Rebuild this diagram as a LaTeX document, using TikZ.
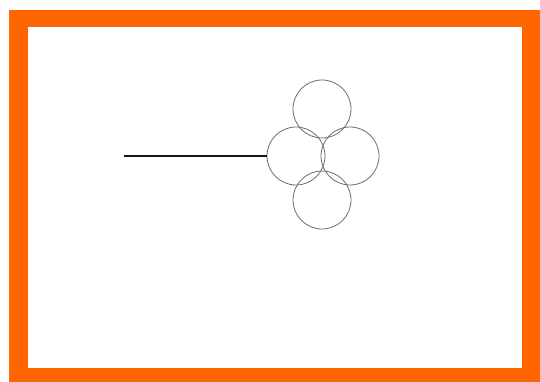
\documentclass[tikz,border=0pt]{standalone}
\usepackage{tikz}
\usetikzlibrary{positioning}
\definecolor{frameorange}{RGB}{255,102,0}
\definecolor{ringgrey}{RGB}{110,110,110}
\definecolor{stemblack}{RGB}{20,20,20}

\begin{document}
\begin{tikzpicture}[x=1pt,y=-1pt,
    ring/.style={circle,draw=ringgrey,line width=0.8pt,minimum size=58pt,inner sep=0pt}]
        \useasboundingbox (0,0) rectangle (540,382);
        % Frame
        \fill[frameorange] (9,10) rectangle (540,382);
        \fill[white] (28,27) rectangle (522,368);
        % Rings
        \node[ring] (left) at (296,156) {};
        \node[ring] (right) at (350,156) {};
        \node[ring] (top) at (322,109) {};
        \node[ring] (bottom) at (322,200) {};
        % Stem
        \coordinate (stem) at (124,156);
        \draw[stemblack,line width=1.8pt] (stem) -- (left.west);
      \end{tikzpicture}
\end{document}
